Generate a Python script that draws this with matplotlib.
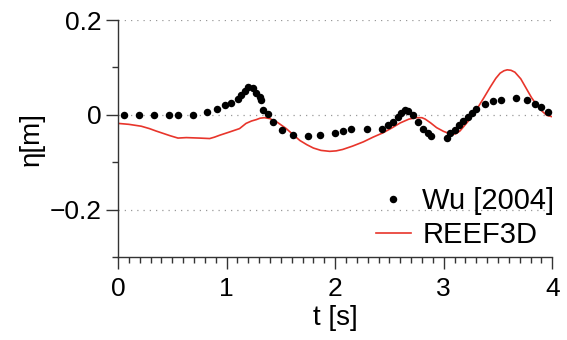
import numpy as np
import matplotlib
matplotlib.use('Agg')
import matplotlib.pyplot as plt
from matplotlib.ticker import MultipleLocator

# measured data (Wu 2004)
wu_t = [0.06, 0.19, 0.33, 0.47, 0.55, 0.69, 0.82, 0.91, 0.99, 1.045, 1.106, 1.137,
        1.168, 1.198, 1.244, 1.275, 1.306, 1.32, 1.336, 1.38, 1.43, 1.51, 1.61, 1.75,
        1.86, 2.00, 2.07, 2.145, 2.29, 2.43, 2.49, 2.535, 2.575, 2.61, 2.64, 2.67,
        2.72, 2.76, 2.81, 2.857, 2.88, 3.03, 3.06, 3.10, 3.14, 3.18, 3.22, 3.257,
        3.297, 3.38, 3.456, 3.53, 3.665, 3.764, 3.84, 3.90, 3.958]
wu_eta = [0.0, 0.0, 0.0, 0.0, 0.0, 0.0, 0.005, 0.012, 0.02, 0.026, 0.033, 0.042,
          0.051, 0.059, 0.057, 0.047, 0.038, 0.031, 0.011, 0.001, -0.015, -0.031, -0.042, -0.044,
          -0.043, -0.039, -0.035, -0.030, -0.030, -0.030, -0.022, -0.015, -0.004, 0.004, 0.010, 0.009,
          -0.001, -0.015, -0.029, -0.038, -0.045, -0.049, -0.039, -0.031, -0.022, -0.013, -0.004, 0.004,
          0.013, 0.022, 0.029, 0.031, 0.035, 0.031, 0.022, 0.016, 0.007]

# REEF3D simulation
reef_t = [0.0, 0.1, 0.215, 0.29, 0.35, 0.415, 0.48, 0.553, 0.63, 0.75, 0.845, 0.89, 0.937,
          1.03, 1.12, 1.18, 1.23, 1.275, 1.31, 1.35, 1.40, 1.47, 1.55, 1.61, 1.675, 1.74,
          1.80, 1.87, 1.95, 2.01, 2.07, 2.16, 2.26, 2.35, 2.44, 2.52, 2.60, 2.68, 2.75,
          2.80, 2.83, 2.88, 2.935, 3.0, 3.07, 3.11, 3.15, 3.22, 3.30, 3.37, 3.43, 3.48,
          3.52, 3.555, 3.585, 3.62, 3.656, 3.71, 3.76, 3.81, 3.86, 3.91, 3.95, 4.0]
reef_eta = [-0.018, -0.020, -0.024, -0.029, -0.034, -0.039, -0.044, -0.049, -0.048, -0.049, -0.050, -0.047, -0.043,
            -0.036, -0.029, -0.018, -0.013, -0.010, -0.007, -0.006, -0.008, -0.016, -0.029, -0.041, -0.054, -0.063,
            -0.070, -0.075, -0.077, -0.076, -0.073, -0.066, -0.057, -0.047, -0.038, -0.028, -0.017, -0.009, -0.006,
            -0.006, -0.009, -0.017, -0.027, -0.035, -0.041, -0.040, -0.034, -0.015, 0.010, 0.036, 0.059, 0.077,
            0.088, 0.093, 0.095, 0.094, 0.090, 0.076, 0.056, 0.036, 0.020, 0.007, -0.001, -0.004]

plt.rcParams['font.family'] = ['Liberation Sans', 'DejaVu Sans']

fig = plt.figure(figsize=(5.67, 3.4), dpi=100)
ax = fig.add_axes([0.208, 0.244, 0.766, 0.697])

ax.plot(reef_t, reef_eta, color='#e8352b', lw=1.2, label='REEF3D', zorder=2)
ax.plot(wu_t, wu_eta, 'o', color='black', ms=5.4, mec='none', label='Wu [2004]', zorder=3)

ax.set_xlim(0, 4)
ax.set_ylim(-0.3, 0.2)
ax.xaxis.set_major_locator(MultipleLocator(1))
ax.xaxis.set_minor_locator(MultipleLocator(0.1))
ax.yaxis.set_minor_locator(MultipleLocator(0.1))
ax.set_yticks([-0.2, 0, 0.2])
ax.set_yticklabels(['\u22120.2', '0', '0.2'])

ax.grid(axis='y', which='major', linestyle=(0, (1, 4)), color='#999999', lw=0.9)
ax.spines['top'].set_visible(False)
ax.spines['right'].set_visible(False)
for s in ['left', 'bottom']:
    ax.spines[s].set_color('#333333')
    ax.spines[s].set_linewidth(1.0)

ax.tick_params(which='major', direction='out', length=8.5, width=1.0, color='#333333',
               labelsize=19, pad=3)
ax.tick_params(axis='x', which='major', pad=6)
ax.tick_params(which='minor', direction='out', length=4, width=1.0, color='#333333')

ax.set_xlabel('t [s]', fontsize=20, labelpad=3)
ax.set_ylabel('\u03b7[m]', fontsize=20, labelpad=4)

handles, labels = ax.get_legend_handles_labels()
ax.legend(handles[::-1], labels[::-1], loc='lower right', bbox_to_anchor=(1.045, -0.04),
          frameon=False, fontsize=21, handlelength=1.2, handletextpad=0.4,
          labelspacing=0.2, borderaxespad=0.2)

fig.savefig('out.png', dpi=100)
